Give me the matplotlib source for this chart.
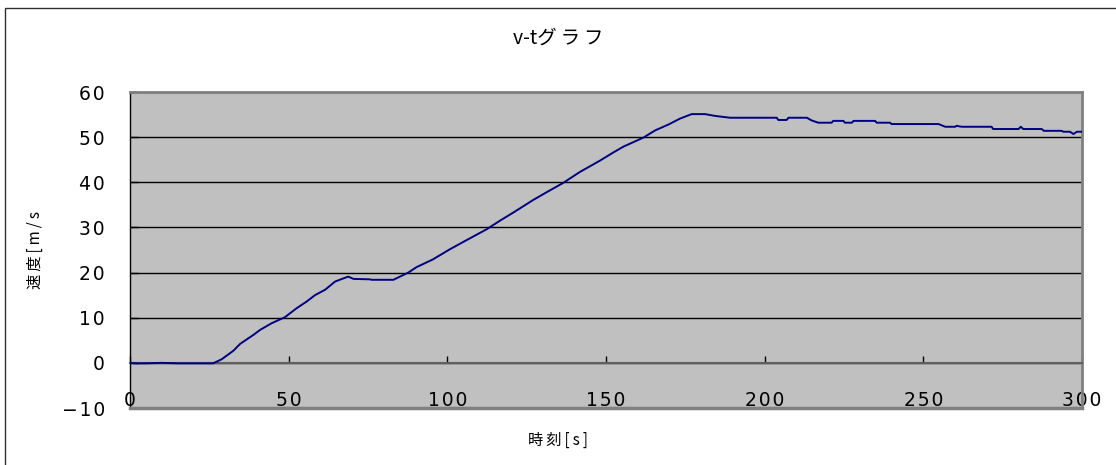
import matplotlib
matplotlib.use('Agg')
import matplotlib.pyplot as plt
from matplotlib.patches import Rectangle

plt.rcParams['font.family'] = ['Noto Sans CJK JP', 'DejaVu Sans']

# time [s] and speed [m/s]
t = [0, 2, 5, 10, 15, 20, 26.2, 28.9, 32.6, 34.7, 38.9, 41, 44.7, 48.8, 52.5, 55.7,
     58.3, 61.5, 64.6, 67.2, 68.8, 70.4, 75.6, 76.2, 83, 87.7, 90.3, 95.4, 100.9,
     106.1, 112.4, 116.6, 120.8, 127.1, 131.3, 136.6, 141.8, 148.1, 152.3, 155.5,
     161.8, 165.5, 169.7, 173.3, 177, 181.2, 184.4, 189.1, 203.8, 204.3, 206.9,
     207.5, 213.3, 214.8, 216.9, 221.1, 221.6, 224.8, 225.3, 227.5, 228, 234.8,
     235.3, 239.5, 240, 254.8, 256.9, 260, 260.5, 262.1, 271.5, 272, 280, 280.7,
     281.5, 287.3, 288, 293.6, 294.1, 296.2, 297.3, 298.4, 300.4]
v = [0, -0.1, -0.1, 0, -0.1, -0.1, -0.1, 0.8, 2.7, 4.2, 6.2, 7.3, 8.8, 10.1, 12.1, 13.6,
     15.0, 16.2, 18.0, 18.7, 19.1, 18.6, 18.5, 18.4, 18.4, 20.0, 21.2, 22.9, 25.2,
     27.2, 29.6, 31.5, 33.3, 36.1, 37.8, 39.9, 42.3, 44.8, 46.6, 47.9,
     49.9, 51.5, 52.8, 54.1, 55.1, 55.1, 54.7, 54.3, 54.3, 53.8, 53.8,
     54.3, 54.3, 53.7, 53.2, 53.2, 53.6, 53.6, 53.2, 53.2, 53.6, 53.6,
     53.2, 53.2, 52.9, 52.9, 52.3, 52.3, 52.5, 52.3, 52.3, 51.8, 51.8, 52.3,
     51.8, 51.8, 51.4, 51.4, 51.2, 51.2, 50.7, 51.2, 51.2]

yticks = [-10, 0, 10, 20, 30, 40, 50, 60]
xticks = [0, 50, 100, 150, 200, 250, 300]

title = 'v-tグラフ'
xlabel = '時刻[s]'
ylabel = '速度[m/s'


def spaced(s, sep='\u200a'):
    # excel-ish wide character spacing
    return sep.join(str(s))


def num(n):
    return spaced(str(n).replace('-', '\u2212'))


fig = plt.figure(figsize=(11.16, 4.65), dpi=100)
fig.patches.append(Rectangle((5 / 1116, -0.1), 1.2, (465 - 8) / 465 + 0.1,
                             transform=fig.transFigure, fill=False,
                             edgecolor='#303030', lw=1))

ax = fig.add_axes([130 / 1116, 57 / 465, 952 / 1116, 316 / 465])
ax.set_facecolor('#c0c0c0')
ax.plot(t, v, color='#000080', lw=1.4, zorder=3)

for s in ['top', 'right']:
    ax.spines[s].set_color('#808080')
    ax.spines[s].set_linewidth(2)
ax.spines['left'].set_color('black')
ax.spines['left'].set_linewidth(1)
# x axis crosses at 0, like the excel original
ax.spines['bottom'].set_position(('data', 0))
ax.spines['bottom'].set_color('#606060')
ax.spines['bottom'].set_linewidth(1.5)
ax.axhline(-10, color='#808080', lw=2.5, clip_on=False, zorder=2.6)

ax.set_xlim(0, 300)
ax.set_ylim(-10, 60)
ax.set_yticks(yticks)
ax.set_yticklabels([num(y) for y in yticks], family='DejaVu Sans', fontsize=13.5)
ax.set_xticks(xticks)
ax.set_xticklabels([num(x) for x in xticks], family='DejaVu Sans', fontsize=13.5)

ax.set_axisbelow(True)
ax.yaxis.grid(True, color='black', lw=1)

ax.tick_params(axis='y', direction='in', length=6, width=1, color='black', pad=18)
ax.tick_params(axis='x', direction='in', length=5, width=1, color='black', pad=20)

fig.text(0.5, (465 - 38) / 465, title[:3] + spaced(title[3:], '\u2009'),
         ha='center', va='center', fontsize=14)
fig.text(0.5, (465 - 440) / 465, spaced(xlabel, '\u2009'), ha='center', va='center',
         fontsize=11)
fig.text(35 / 1116, (465 - 250) / 465, spaced(ylabel, '\u2009'), ha='center',
         va='center', rotation=90, fontsize=11)

fig.savefig('out.png', dpi=100)
